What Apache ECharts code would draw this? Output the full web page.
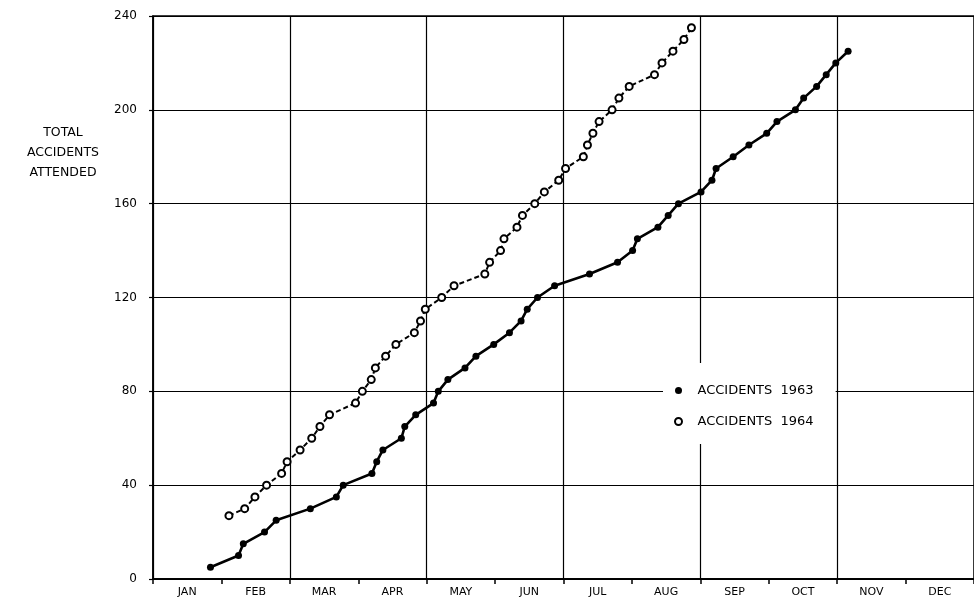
<!DOCTYPE html>
<html lang="en">
<head>
  <meta charset="UTF-8">
  <title>accidents_demo</title>
  <script src="https://cdn.jsdelivr.net/npm/echarts@6/dist/echarts.min.js"></script>
  <style>
    *{
      margin:0;
      padding:0;
    }
    body{
      background:#fff;
    }
    .container{
      width: 974px;
      height: 602px;
    }
  </style>
</head>
<body>
  <div class="container"></div>

  <script type="text/javascript">
    // months along the x axis, values are positions in months from 1 Jan
    var months = ['JAN','FEB','MAR','APR','MAY','JUN','JUL','AUG','SEP','OCT','NOV','DEC']
    var yTicks = [0,40,80,120,160,200,240]

    var x1963 = [0.84,1.25,1.32,1.63,1.80,2.30,2.68,2.78,3.20,3.27,3.36,3.63,3.68,3.84,
      4.10,4.17,4.31,4.56,4.72,4.98,5.21,5.38,5.47,5.62,5.87,6.38,6.79,7.01,7.08,7.38,
      7.53,7.68,8.01,8.17,8.23,8.48,8.71,8.97,9.12,9.39,9.51,9.70,9.84,9.98,10.16]
    var y1963 = [5,10,15,20,25,30,35,40,45,50,55,60,65,70,75,80,85,90,95,100,105,110,
      115,120,125,130,135,140,145,150,155,160,165,170,175,180,185,190,195,200,205,210,
      215,220,225]

    var x1964 = [1.11,1.34,1.49,1.66,1.88,1.96,2.15,2.32,2.44,2.58,2.96,3.06,3.19,3.25,
      3.40,3.55,3.82,3.91,3.98,4.22,4.40,4.85,4.92,5.08,5.13,5.32,5.40,5.58,5.72,5.93,
      6.03,6.29,6.35,6.43,6.52,6.71,6.81,6.96,7.33,7.44,7.60,7.76,7.87]
    var y1964 = [27,30,35,40,45,50,55,60,65,70,75,80,85,90,95,100,105,110,115,120,125,
      130,135,140,145,150,155,160,165,170,175,180,185,190,195,200,205,210,215,220,225,
      230,235]

    var font = 'DejaVu Sans'
    const mCharts=echarts.init(document.querySelector('.container'))

    var option={
      backgroundColor:'#fff',
      animation:false,
      textStyle:{fontFamily:font,color:'#000'},
      grid:{
        left:153,
        top:16,
        right:-8,
        bottom:23,
        show:true,
        borderColor:'#000',
        borderWidth:1.5,
        backgroundColor:'transparent'
      },
      graphic:[
        {
          type:'text',
          x:63,
          y:123,
          style:{
            text:'TOTAL\nACCIDENTS\nATTENDED',
            fill:'#000',
            font:'12.5px "DejaVu Sans"',
            align:'center',
            lineHeight:20
          }
        }
      ],
      legend:{
        left:663,
        top:363,
        orient:'vertical',
        backgroundColor:'#fff',
        padding:[21,22,16,11],
        itemGap:18,
        itemWidth:28,
        itemHeight:7,
        textStyle:{fontFamily:font,fontSize:13,color:'#000'},
        data:[
          {name:'ACCIDENTS  1963',icon:'circle'},
          {name:'ACCIDENTS  1964',icon:'emptyCircle'}
        ]
      },
      xAxis:[
        {
          type:'value',
          min:0,
          max:12,
          interval:2,
          axisLine:{show:true,lineStyle:{color:'#000',width:1.5}},
          axisTick:{show:false},
          axisLabel:{show:false},
          splitLine:{show:true,lineStyle:{color:'#000',width:1.2}}
        },
        {
          type:'category',
          position:'bottom',
          data:months,
          boundaryGap:true,
          axisLine:{show:true,lineStyle:{color:'#000',width:1.5}},
          axisTick:{show:true,length:5,lineStyle:{color:'#000',width:1.5}},
          axisLabel:{color:'#000',fontSize:11,fontFamily:font,margin:8},
          splitLine:{show:false}
        }
      ],
      yAxis:{
        type:'value',
        min:yTicks[0],
        max:yTicks[yTicks.length-1],
        interval:40,
        offset:9,
        axisLine:{show:true,lineStyle:{color:'#000',width:1.5}},
        axisTick:{show:true,length:4,lineStyle:{color:'#000',width:1.2}},
        axisLabel:{color:'#000',fontSize:12,fontFamily:font,margin:7},
        splitLine:{show:true,lineStyle:{color:'#000',width:1.2}}
      },
      series:[
        {
          name:'ACCIDENTS  1963',
          type:'line',
          xAxisIndex:0,
          data:x1963.map((x,i)=>[x,y1963[i]]),
          symbol:'circle',
          symbolSize:7,
          itemStyle:{color:'#000'},
          lineStyle:{color:'#000',width:2.6},
          z:3
        },
        {
          name:'ACCIDENTS  1964',
          type:'line',
          xAxisIndex:0,
          data:x1964.map((x,i)=>[x,y1964[i]]),
          symbol:'emptyCircle',
          symbolSize:7,
          itemStyle:{color:'#000',borderWidth:1.4},
          lineStyle:{color:'#000',width:2,type:[5,3]},
          z:3
        }
      ]
    }
    mCharts.setOption(option)
    window.onresize=mCharts.resize
  </script>
</body>
</html>
